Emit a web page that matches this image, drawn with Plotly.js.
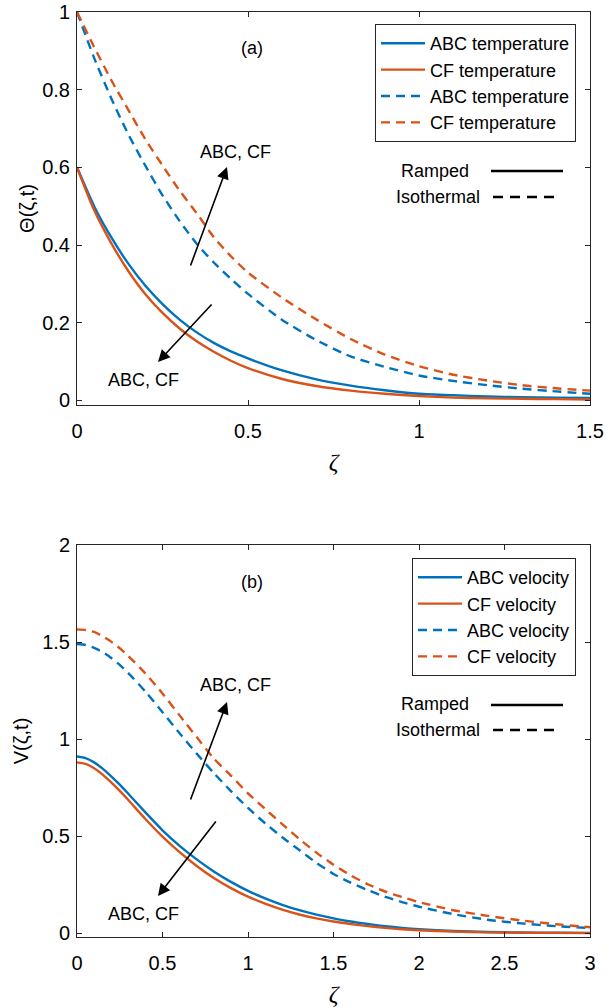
<!DOCTYPE html>
<html>
<head>
<meta charset="utf-8">
<script src="https://cdn.plot.ly/plotly-3.0.1.min.js"></script>
<style>html,body{margin:0;padding:0;background:#fff;}#chart{width:612px;height:1008px;}</style>
</head>
<body>
<div id="chart"></div>
<script>
// ---------- data ----------
// (a) temperature profiles
const zetaA = [0,0.05,0.1,0.15,0.2,0.25,0.3,0.35,0.4,0.45,0.5,0.6,0.7,0.8,0.9,1.0,1.1,1.2,1.3,1.4,1.5];
const thetaABCRamped = [0.600,0.500,0.420,0.352,0.295,0.248,0.208,0.175,0.148,0.126,0.108,0.077,0.054,0.038,0.026,0.017,0.013,0.010,0.008,0.007,0.006];
const thetaCFRamped  = [0.600,0.490,0.405,0.333,0.273,0.225,0.185,0.152,0.125,0.102,0.083,0.055,0.037,0.025,0.017,0.011,0.007,0.005,0.004,0.003,0.002];
const thetaABCIso    = [1.000,0.882,0.778,0.685,0.604,0.528,0.462,0.403,0.355,0.313,0.274,0.207,0.155,0.113,0.086,0.064,0.050,0.039,0.030,0.023,0.017];
const thetaCFIso     = [1.000,0.910,0.825,0.748,0.672,0.605,0.540,0.482,0.420,0.371,0.329,0.264,0.208,0.158,0.118,0.088,0.066,0.051,0.039,0.031,0.025];

// (b) velocity profiles
const zetaB = [0,0.05,0.1,0.15,0.2,0.25,0.3,0.4,0.5,0.6,0.7,0.8,0.9,1.0,1.1,1.2,1.3,1.4,1.5,1.6,1.7,1.8,1.9,2.0,2.2,2.4,2.6,2.8,3.0];
const velABCRamped = [0.910,0.902,0.880,0.848,0.808,0.765,0.718,0.622,0.530,0.450,0.380,0.318,0.264,0.218,0.179,0.146,0.118,0.095,0.076,0.060,0.047,0.036,0.027,0.020,0.011,0.006,0.003,0.002,0.001];
const velCFRamped  = [0.880,0.872,0.850,0.817,0.777,0.733,0.686,0.588,0.497,0.417,0.346,0.284,0.232,0.188,0.152,0.121,0.096,0.076,0.060,0.047,0.036,0.027,0.020,0.015,0.008,0.004,0.002,0.001,0.000];
const velABCIso    = [1.490,1.485,1.470,1.448,1.418,1.382,1.340,1.245,1.138,1.030,0.925,0.825,0.732,0.645,0.566,0.494,0.428,0.362,0.305,0.260,0.222,0.188,0.160,0.136,0.098,0.069,0.050,0.036,0.026];
const velCFIso     = [1.565,1.562,1.552,1.530,1.502,1.468,1.428,1.338,1.235,1.122,1.010,0.900,0.812,0.720,0.640,0.562,0.485,0.415,0.352,0.298,0.252,0.215,0.186,0.160,0.118,0.089,0.065,0.046,0.030];

const namesA = ['ABC temperature','CF temperature','ABC temperature','CF temperature'];
const namesB = ['ABC velocity','CF velocity','ABC velocity','CF velocity'];
const xTicksA = [0,0.5,1,1.5];
const yTicksA = [0,0.2,0.4,0.6,0.8,1];
const xTicksB = [0,0.5,1,1.5,2,2.5,3];
const yTicksB = [0,0.5,1,1.5,2];

// ---------- styling ----------
const BLUE = '#0072BD', ORANGE = '#D95319', INK = '#262626';
const FONT = 'Liberation Sans, Arial, Helvetica, sans-serif';
const DASH = '9px,6px';
const W = 612, H = 1008;
const ML = 77, MR = 22, MT = 12, MB = 71;
const PW = W - ML - MR, PH = H - MT - MB;
const px = v => (v - ML) / PW;            // pixel x -> paper x
const py = v => (H - MB - v) / PH;        // pixel y -> paper y

function tr(x, y, name, color, dash, xa, ya, leg) {
  return {x: x, y: y, name: name, type: 'scatter', mode: 'lines',
          line: {color: color, width: 2.4, dash: dash, shape: 'spline', smoothing: 0.6},
          xaxis: xa, yaxis: ya, legend: leg, hoverinfo: 'skip'};
}
const data = [
  tr(zetaA, thetaABCRamped, namesA[0], BLUE, 'solid', 'x', 'y', 'legend'),
  tr(zetaA, thetaCFRamped,  namesA[1], ORANGE, 'solid', 'x', 'y', 'legend'),
  tr(zetaA, thetaABCIso,    namesA[2], BLUE, DASH, 'x', 'y', 'legend'),
  tr(zetaA, thetaCFIso,     namesA[3], ORANGE, DASH, 'x', 'y', 'legend'),
  tr(zetaB, velABCRamped, namesB[0], BLUE, 'solid', 'x2', 'y2', 'legend2'),
  tr(zetaB, velCFRamped,  namesB[1], ORANGE, 'solid', 'x2', 'y2', 'legend2'),
  tr(zetaB, velABCIso,    namesB[2], BLUE, DASH, 'x2', 'y2', 'legend2'),
  tr(zetaB, velCFIso,     namesB[3], ORANGE, DASH, 'x2', 'y2', 'legend2')
];

function axis(extra) {
  return Object.assign({
    showline: true, mirror: 'ticks', linecolor: INK, linewidth: 1,
    ticks: 'inside', ticklen: 5, tickwidth: 1, tickcolor: INK,
    showgrid: false, zeroline: false, fixedrange: true,
    tickfont: {family: FONT, size: 20, color: '#000'}
  }, extra);
}

const legendBase = {
  font: {family: FONT, size: 18, color: '#000'},
  bgcolor: '#fff', bordercolor: INK, borderwidth: 1,
  xanchor: 'right', yanchor: 'top', itemwidth: 44, tracegroupgap: 0,
  itemclick: false, itemdoubleclick: false
};

const annFont = {family: FONT, size: 18, color: '#000'};
function txt(x, y, t, anchor) {
  return {xref: 'paper', yref: 'paper', x: px(x), y: py(y), text: t, showarrow: false,
          xanchor: anchor || 'center', yanchor: 'middle', font: annFont};
}
function arrow(tx, ty, hx, hy) {
  return {xref: 'paper', yref: 'paper', x: px(hx), y: py(hy), ax: tx - hx, ay: ty - hy,
          axref: 'pixel', ayref: 'pixel', text: '', showarrow: true,
          arrowhead: 2, arrowsize: 1.5, arrowwidth: 1.6, arrowcolor: '#000'};
}
function seg(x0, x1, y, dash) {
  return {type: 'line', xref: 'paper', yref: 'paper', x0: px(x0), x1: px(x1), y0: py(y), y1: py(y),
          line: {color: '#000', width: 2.5, dash: dash}};
}

const zetaTitle = {text: '<i>ζ</i>', font: {family: 'Liberation Serif, serif', size: 24}, standoff: 12};

const layout = {
  width: W, height: H, showlegend: true,
  paper_bgcolor: '#fff', plot_bgcolor: '#fff',
  margin: {l: ML, r: MR, t: MT, b: MB},
  font: {family: FONT, color: '#000'},
  xaxis: axis({domain: [0, 1], anchor: 'y', range: [0, 1.5], tickvals: xTicksA,
               ticklabelstandoff: 8, title: zetaTitle}),
  yaxis: axis({domain: [py(405), 1], anchor: 'x', range: [-0.012, 1], tickvals: yTicksA,
               ticklabelstandoff: 2,
               title: {text: 'Θ(ζ,t)', font: {family: FONT, size: 20}, standoff: 2}}),
  xaxis2: axis({domain: [0, 1], anchor: 'y2', range: [0, 3], tickvals: xTicksB,
               ticklabelstandoff: 8, title: zetaTitle}),
  yaxis2: axis({domain: [0, py(545)], anchor: 'x2', range: [-0.02, 2], tickvals: yTicksB,
               ticklabelstandoff: 2,
               title: {text: 'V(ζ,t)', font: {family: FONT, size: 20}, standoff: 8}}),
  legend: Object.assign({}, legendBase, {x: px(576), y: py(24)}),
  legend2: Object.assign({}, legendBase, {x: px(576), y: py(558)}),
  annotations: [
    txt(252, 48, '(a)'),
    txt(235, 152, 'ABC, CF'),
    txt(143, 380, 'ABC, CF'),
    arrow(190, 267, 227, 167),
    arrow(213, 303, 158, 362),
    txt(399, 171, 'Ramped', 'left'),
    txt(394, 197, 'Isothermal', 'left'),
    txt(252, 582, '(b)'),
    txt(235, 685, 'ABC, CF'),
    txt(143, 914, 'ABC, CF'),
    arrow(190, 801, 227, 702),
    arrow(217, 820, 158, 896),
    txt(399, 704, 'Ramped', 'left'),
    txt(394, 730, 'Isothermal', 'left')
  ],
  shapes: [
    seg(491, 563, 171, 'solid'),
    seg(493, 559, 197, '10px,7px'),
    seg(491, 563, 705, 'solid'),
    seg(493, 559, 730, '10px,7px')
  ]
};

Plotly.newPlot('chart', data, layout, {staticPlot: true, displayModeBar: false});
</script>
</body>
</html>
